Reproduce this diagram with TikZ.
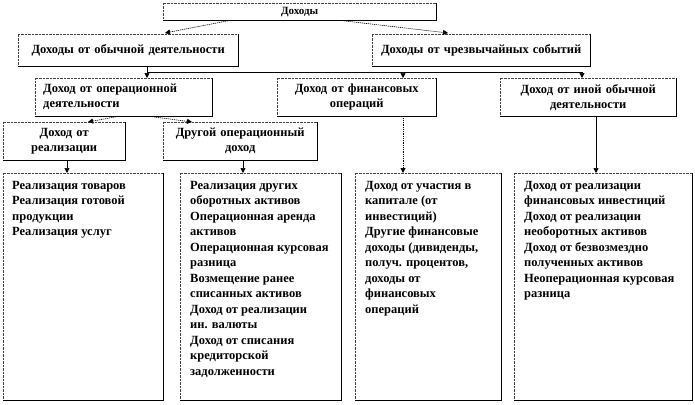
\documentclass[tikz,border=0pt]{standalone}
\usepackage{fontspec}
\setmainfont{Liberation Serif}
\usetikzlibrary{arrows.meta,calc}
\tikzset{
  bx/.style={inner sep=0pt, fill=white, anchor=north west, font=\bfseries\fontsize{12.5}{15}\selectfont},
  dotedge/.style={draw=black!75, line width=0.7pt, dash pattern=on 0.7pt off 0.7pt},
  soledge/.style={draw=black, line width=0.8pt},
  arrowtip/.style={-{Triangle[length=5pt,width=5pt]}},
  dashcon/.style={arrowtip, line width=0.6pt, dash pattern=on 1.2pt off 0.8pt},
  dotcon/.style={arrowtip, line width=0.9pt, dash pattern=on 0.9pt off 0.9pt},
  solcon/.style={arrowtip, line width=0.7pt},
  busline/.style={line width=0.8pt},
  listtext/.style={inner sep=0pt, anchor=north west, align=left, font=\bfseries\fontsize{12.5}{15.5}\selectfont},
}
\newcommand\boxedges[1]{%
  \draw[dotedge] (#1.south west) -- (#1.north west) -- (#1.north east);
  \draw[soledge] (#1.north east) -- (#1.south east) -- (#1.south west);}
\begin{document}
\begin{tikzpicture}[x=1pt,y=-1pt]
\useasboundingbox[fill=white] (0,0) rectangle (695,404);
% level 0
\node[bx, minimum width=273pt, minimum height=17pt, font=\bfseries\fontsize{11}{13}\selectfont] (top) at (163,3) {Доходы};
% level 1
\node[bx, minimum width=220pt, minimum height=32pt, text width=216pt, align=center] (obych) at (18,34) {Доходы от обычной деятельности};
\node[bx, minimum width=218pt, minimum height=32pt, text width=214pt, align=center] (chrez) at (372,34) {Доходы от чрезвычайных событий};
% level 2
\node[bx, minimum width=177pt, minimum height=38pt, text width=161pt, align=left] (oper) at (35,78) {Доход от операционной\\деятельности};
\node[bx, minimum width=159pt, minimum height=38pt, text width=155pt, align=center] (fin) at (277,78) {Доход от финансовых\\операций};
\node[bx, minimum width=176pt, minimum height=38pt, text width=172pt, align=center] (inoy) at (500,78) {Доход от иной обычной\\деятельности};
% level 3
\node[bx, minimum width=122pt, minimum height=38pt, text width=118pt, align=center] (real) at (3,122) {Доход от\\реализации};
\node[bx, minimum width=154pt, minimum height=38pt, text width=150pt, align=center] (drug) at (163,122) {Другой операционный\\доход};
% bottom boxes
\node[bx, minimum width=160pt, minimum height=227pt] (b1) at (3,173) {};
\node[bx, minimum width=161pt, minimum height=227pt] (b2) at (180,173) {};
\node[bx, minimum width=146pt, minimum height=227pt] (b3) at (355,173) {};
\node[bx, minimum width=178pt, minimum height=227pt] (b4) at (514,173) {};
\node[listtext] (t1) at (12,181) {Реализация товаров\\Реализация готовой\\продукции\\Реализация услуг};
\node[listtext] (t2) at (190,181) {Реализация других\\оборотных активов\\Операционная аренда\\активов\\Операционная курсовая\\разница\\Возмещение ранее\\списанных активов\\Доход от реализации\\ин. валюты\\Доход от списания\\кредиторской\\задолженности};
\node[listtext] (t3) at (365,181) {Доход от участия в\\капитале (от\\инвестиций)\\Другие финансовые\\доходы (дивиденды,\\получ. процентов,\\доходы от\\финансовых\\операций};
\node[listtext] (t4) at (524,181) {Доход от реализации\\финансовых инвестиций\\Доход от реализации\\необоротных активов\\Доход от безвозмездно\\полученных активов\\Неоперационная курсовая\\разница};
% edges
\foreach \n in {top,obych,chrez,oper,fin,inoy,real,drug,b1,b2,b3,b4} {\boxedges{\n}}
% connectors
\draw[dashcon] ($(top.south west)+(67,0)$) -- ($(obych.north west)+(147,-1)$);
\draw[dashcon] ($(top.south west)+(177,0)$) -- ($(chrez.north west)+(76,-1)$);
\coordinate (j1) at (147,72);
\coordinate (j2) at (403,72);
\coordinate (j3) at (582,72);
\draw[busline] (j1) -- (j3);
\draw[solcon] (obych.south -| j1) -- (oper.north -| j1);
\draw[solcon] (j2) -- (fin.north -| j2);
\draw[solcon] (j3) -- (inoy.north -| j3);
\draw[dashcon] ($(oper.south west)+(83,0)$) -- ($(real.north west)+(85,0)$);
\draw[dashcon] ($(oper.south west)+(115,0)$) -- ($(drug.north west)+(29,0)$);
\draw[solcon] ($(real.south west)+(64,0)$) -- ($(b1.north west)+(64,0)$);
\draw[solcon] ($(drug.south west)+(80,0)$) -- ($(b2.north west)+(63,0)$);
\draw[dotcon] ($(fin.south west)+(126,0)$) -- ($(b3.north west)+(48,0)$);
\draw[solcon] ($(inoy.south west)+(96,0)$) -- ($(b4.north west)+(82,0)$);
\end{tikzpicture}
\end{document}
